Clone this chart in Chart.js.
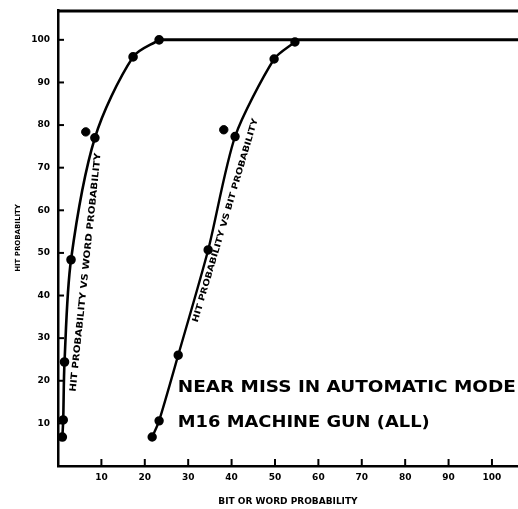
<!DOCTYPE html>
<html>
<head>
<meta charset="utf-8">
<script src="https://cdn.jsdelivr.net/npm/chart.js@4"></script>
<style>
  html, body { margin: 0; padding: 0; background: #fff; }
  #wrap { width: 518px; height: 509px; }
</style>
</head>
<body>
<div id="wrap"><canvas id="chart" width="518" height="509"></canvas></div>
<script>
// ─── DATA ─────────────────────────────────────────────────
const wordX = [1.0, 1.2, 1.5, 3.0, 8.5, 17.3, 23.3];
const wordY = [6.8, 10.8, 24.4, 48.4, 77.0, 96.0, 100];
const plateauX = [23.3, 106];
const plateauY = [100, 100];
const bitX = [21.7, 23.3, 27.7, 34.6, 40.8, 49.8, 54.6];
const bitY = [6.8, 10.6, 26.0, 50.7, 77.3, 95.5, 99.5];
const strayX = [6.4, 38.2];
const strayY = [78.4, 78.9];
const xTicks = [10, 20, 30, 40, 50, 60, 70, 80, 90, 100];
const yTicks = [10, 20, 30, 40, 50, 60, 70, 80, 90, 100];

const notes = [
  { text: 'NEAR MISS IN AUTOMATIC MODE', x: 27.6, y: 17.3, w: 338 },
  { text: 'M16 MACHINE GUN (ALL)', x: 27.6, y: 9.1, w: 252 }
];
const curveLabels = [
  { text: 'HIT PROBABILITY VS WORD PROBABILITY', x: 6.4, y: 45.4, angle: -84, w: 240, size: 9 },
  { text: 'HIT PROBABILITY VS BIT PROBABILITY', x: 38.6, y: 57.6, angle: -73.5, w: 212, size: 8.5 }
];

const pts = (xs, ys) => xs.map((x, i) => ({ x, y: ys[i] }));

// ─── DECORATION: inward ticks, top frame, notes ───────────
const paperPlugin = {
  id: 'paper',
  afterDatasetsDraw(chart) {
    const { ctx, chartArea: a, scales: { x, y } } = chart;
    ctx.save();
    ctx.strokeStyle = '#000';
    ctx.lineWidth = 2;
    xTicks.forEach(v => {
      const px = x.getPixelForValue(v);
      ctx.beginPath(); ctx.moveTo(px, a.bottom); ctx.lineTo(px, a.bottom - 7); ctx.stroke();
    });
    yTicks.forEach(v => {
      const py = y.getPixelForValue(v);
      ctx.beginPath(); ctx.moveTo(a.left, py); ctx.lineTo(a.left + 6, py); ctx.stroke();
    });
    ctx.lineWidth = 3;
    ctx.beginPath(); ctx.moveTo(a.left, a.top + 1); ctx.lineTo(a.right, a.top + 1); ctx.stroke();

    ctx.fillStyle = '#000';
    ctx.textBaseline = 'alphabetic';
    ctx.textAlign = 'left';
    ctx.font = 'bold 16px "DejaVu Sans"';
    notes.forEach(n => {
      const m = ctx.measureText(n.text).width;
      ctx.save();
      ctx.translate(x.getPixelForValue(n.x), y.getPixelForValue(n.y));
      ctx.scale(n.w / m, 1);
      ctx.fillText(n.text, 0, 0);
      ctx.restore();
    });

    ctx.textAlign = 'center';
    ctx.textBaseline = 'middle';
    curveLabels.forEach(l => {
      ctx.font = 'bold ' + l.size + 'px "DejaVu Sans"';
      const m = ctx.measureText(l.text).width;
      ctx.save();
      ctx.translate(x.getPixelForValue(l.x), y.getPixelForValue(l.y));
      ctx.rotate(l.angle * Math.PI / 180);
      ctx.scale(l.w / m, 1);
      ctx.fillText(l.text, 0, 0);
      ctx.restore();
    });
    ctx.restore();
  }
};

const noPad = s => { s.paddingLeft = 0; s.paddingRight = 0; s.paddingTop = 0; s.paddingBottom = 0; };

// ─── CHART ────────────────────────────────────────────────
const ctx = document.getElementById('chart').getContext('2d');
new Chart(ctx, {
  type: 'line',
  data: {
    datasets: [
      {
        data: pts(wordX, wordY),
        borderColor: '#000',
        borderWidth: 2.6,
        pointBackgroundColor: '#000',
        pointBorderColor: '#000',
        pointRadius: 3.5,
        tension: 0.3,
        fill: false
      },
      {
        data: pts(plateauX, plateauY),
        borderColor: '#000',
        borderWidth: 3,
        pointRadius: 0,
        fill: false
      },
      {
        data: pts(bitX, bitY),
        borderColor: '#000',
        borderWidth: 2.4,
        pointBackgroundColor: '#000',
        pointBorderColor: '#000',
        pointRadius: 3.5,
        tension: 0.25,
        fill: false
      },
      {
        data: pts(strayX, strayY),
        showLine: false,
        pointBackgroundColor: '#000',
        pointBorderColor: '#000',
        pointRadius: 4.2
      }
    ]
  },
  options: {
    responsive: false,
    animation: false,
    layout: { autoPadding: false, padding: { top: 10, right: 0, left: 0, bottom: 0 } },
    plugins: { legend: { display: false }, tooltip: { enabled: false } },
    scales: {
      x: {
        type: 'linear',
        min: 0, max: 106,
        afterFit: s => { s.height = 43; noPad(s); },
        grid: { display: false, drawTicks: false },
        border: { display: true, color: '#000', width: 2.5 },
        ticks: {
          stepSize: 10, includeBounds: false, padding: 6, color: '#000',
          font: { family: 'DejaVu Sans', weight: 'bold', size: 9 },
          maxRotation: 0, autoSkip: false,
          callback: v => (v > 0 && v <= 100) ? String(v) : ''
        },
        title: {
          display: true, text: 'BIT OR WORD PROBABILITY', color: '#000',
          font: { family: 'DejaVu Sans', weight: 'bold', size: 9 },
          padding: { top: 0, bottom: 2 }
        }
      },
      y: {
        min: 0, max: 107,
        afterFit: s => { s.width = 58; noPad(s); },
        grid: { display: false, drawTicks: false },
        border: { display: true, color: '#000', width: 2.5 },
        ticks: {
          stepSize: 10, includeBounds: false, padding: 8, color: '#000',
          font: { family: 'DejaVu Sans', weight: 'bold', size: 9 },
          callback: v => (v > 0 && v <= 100) ? String(v) : ''
        },
        title: {
          display: true, text: 'HIT PROBABILITY', color: '#000',
          font: { family: 'DejaVu Sans', weight: 'bold', size: 7 },
          padding: { top: 14, bottom: 0 }
        }
      }
    }
  },
  plugins: [paperPlugin]
});
</script>
</body>
</html>
